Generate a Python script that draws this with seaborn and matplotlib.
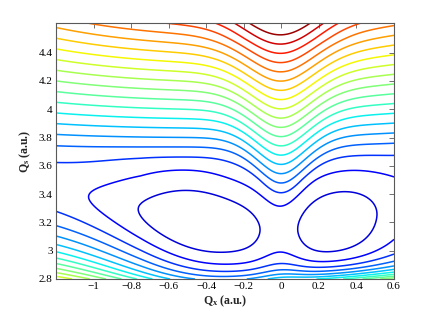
import numpy as np
import matplotlib
matplotlib.use("Agg")
import matplotlib.pyplot as plt
import seaborn as sns

# ---------------- data ----------------
qx_limits = (-1.2, 0.6)
qs_limits = (2.8, 4.61)
contour_levels = list(range(0, 20))          # equally spaced energy levels (arb. units)
color_limits = (-1.7, 19.5)                   # colour scale of the levels
x_ticks = [-1, -0.8, -0.6, -0.4, -0.2, 0, 0.2, 0.4, 0.6]
y_ticks = [2.8, 3, 3.2, 3.4, 3.6, 3.8, 4, 4.2, 4.4]

# surface model (valley floor, two wells, central ridge, upper sheet)
valley_floor_coef = [3.125, -0.012, 0.39, 0.155]     # Qs of the valley floor vs Qx
floor_base = 1.6
left_well = [2.45, -0.44, 0.35]                       # depth, centre Qx, width
right_well = [2.25, 0.29, 0.262]
floor_ridge = [0.8, 0.09, 0.3, 0.2]                   # narrow / broad heights and widths
upper_slope = [15.3, 1.7, -0.1]                       # a - b*(x-c)^2
upper_offset = [3.545, 0.02]
upper_ridge = [4.0, 0.12, 0.07, 0.19]                 # height, width law
lower_stiffness = [2.0, 18.0, -0.3, 0.22]
wall = [1.5, 7.0, 0.1, 0.2, 12.0]

sns.set_theme(style="white")
plt.rcParams["font.family"] = ["Liberation Serif", "DejaVu Serif"]
plt.rcParams["mathtext.fontset"] = "custom"
plt.rcParams["mathtext.rm"] = "Liberation Serif"
plt.rcParams["mathtext.bf"] = "Liberation Serif:bold"
plt.rcParams["mathtext.it"] = "Liberation Serif:italic"
plt.rcParams["axes.unicode_minus"] = True

x = np.linspace(qx_limits[0], qx_limits[1], 420)
y = np.linspace(qs_limits[0], qs_limits[1], 360)
X, Y = np.meshgrid(x, y)

sigmoid = lambda t: 1.0 / (1.0 + np.exp(-t))
y0 = sum(c * X**i for i, c in enumerate(valley_floor_coef))
D = Y - y0
W = (floor_base
     - left_well[0] * np.exp(-(X - left_well[1])**2 / (2 * left_well[2]**2))
     - right_well[0] * np.exp(-(X - right_well[1])**2 / (2 * right_well[2]**2))
     + floor_ridge[0] * np.exp(-X**2 / (2 * floor_ridge[1]**2))
     + floor_ridge[2] * np.exp(-X**2 / (2 * floor_ridge[3]**2)))
E = np.clip(0.2 + 0.2 * (X + 0.3), 0.11, None) + 0.6 * np.maximum(X, 0)**2
C = 9 + 3 * X + 5 * np.maximum(X, 0)**2
KD = lower_stiffness[0] + lower_stiffness[1] * sigmoid(-(X - lower_stiffness[2]) / lower_stiffness[3])
AW = wall[0] + wall[1] * sigmoid((X - wall[2]) / wall[3])
hyp = np.sqrt(D**2 + E**2) - E
F = W + np.where(D > 0, C * hyp, 0.36 * C * hyp + KD * D**2) \
    + AW * np.exp(wall[4] * (qs_limits[0] - Y))
S = upper_slope[0] - upper_slope[1] * (X - upper_slope[2])**2
sig = np.clip(upper_ridge[1] + upper_ridge[2] * (Y - 3.5), upper_ridge[1], upper_ridge[3])
U = S * (Y - (upper_offset[0] + upper_offset[1] * X)) \
    + upper_ridge[0] * np.exp(-X**2 / (2 * sig**2))
tau = 0.3
Z = tau * np.logaddexp(U / tau, F / tau)

cmap = matplotlib.colormaps["jet"]
norm = matplotlib.colors.Normalize(*color_limits)
line_colors = [cmap(norm(l)) for l in contour_levels]

fig = plt.figure(figsize=(4.36, 3.14), dpi=100)
ax = fig.add_axes([56 / 436, 35 / 314, 338 / 436, 256 / 314])
ax.contour(X, Y, Z, levels=contour_levels, colors=line_colors, linewidths=1.1)

ax.set_xlim(*qx_limits)
ax.set_ylim(*qs_limits)
ax.set_xticks(x_ticks)
ax.set_yticks(y_ticks)
fmt = lambda v: ("%g" % v).replace("-", "\u2212")
ax.set_xticklabels([fmt(v) for v in x_ticks])
ax.set_yticklabels([fmt(v) for v in y_ticks])
ax.tick_params(direction="in", top=True, right=True, length=3.5, width=0.6,
               labelsize=8, pad=2.5, colors="0.35", labelcolor="black")
for sp in ax.spines.values():
    sp.set_color("0.35")
    sp.set_linewidth(0.8)
ax.set_xlabel(r"$\mathbf{Q_x}$ (a.u.)", fontweight="bold", fontsize=8.5, labelpad=1.5)
ax.set_ylabel(r"$\mathbf{Q_s}$ (a.u.)", fontweight="bold", fontsize=8.5, labelpad=4)

fig.savefig("out.png", dpi=100)
